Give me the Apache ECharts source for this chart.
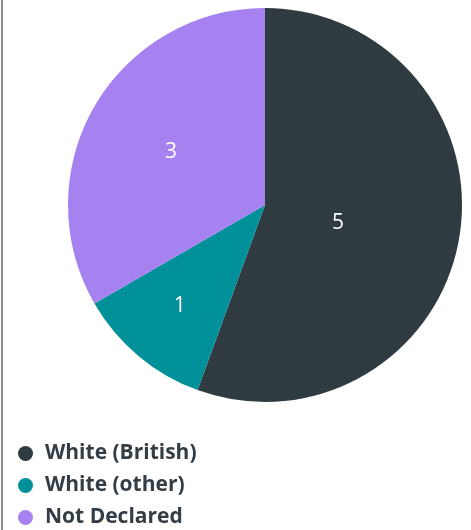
<!DOCTYPE html>
<html><head><meta charset="utf-8">
<script src="https://cdn.jsdelivr.net/npm/echarts@6/dist/echarts.min.js"></script>
<style>html,body{margin:0;padding:0;background:#fff}#c{width:471px;height:530px}</style>
</head><body><div id="c"></div>
<script>
const categories = ['White (British)', 'White (other)', 'Not Declared'];
const values = [5, 1, 3];
const colors = ['#2f3a41', '#00909a', '#a681f0'];
const labelOffsets = [[-27, 0], [-20, 23], [-6, -2]];

const chart = echarts.init(document.getElementById('c'), null, {renderer: 'canvas'});
chart.setOption({
  animation: false,
  graphic: [{type: 'rect', shape: {x: 1, y: 0, width: 2, height: 530}, style: {fill: '#8a8a8a'}}],
  legend: {
    orient: 'vertical', left: 13, top: 438, height: 100,
    icon: 'circle', itemWidth: 15, itemHeight: 15, itemGap: 11,
    data: categories,
    textStyle: {fontFamily: 'Open Sans', fontWeight: 'bold', fontSize: 21, color: '#333d45', lineHeight: 20, padding: [0, 0, 0, 7]}
  },
  series: [{
    type: 'pie',
    center: [265, 205], radius: 197,
    startAngle: 90, clockwise: true,
    label: {show: true, position: 'inside', formatter: '{c}', color: '#fff', fontFamily: 'Open Sans', fontSize: 21},
    labelLine: {show: false},
    emphasis: {disabled: true},
    itemStyle: {borderWidth: 0},
    data: categories.map((n, i) => ({name: n, value: values[i], itemStyle: {color: colors[i]}, label: {offset: labelOffsets[i]}}))
  }]
});
</script></body></html>
